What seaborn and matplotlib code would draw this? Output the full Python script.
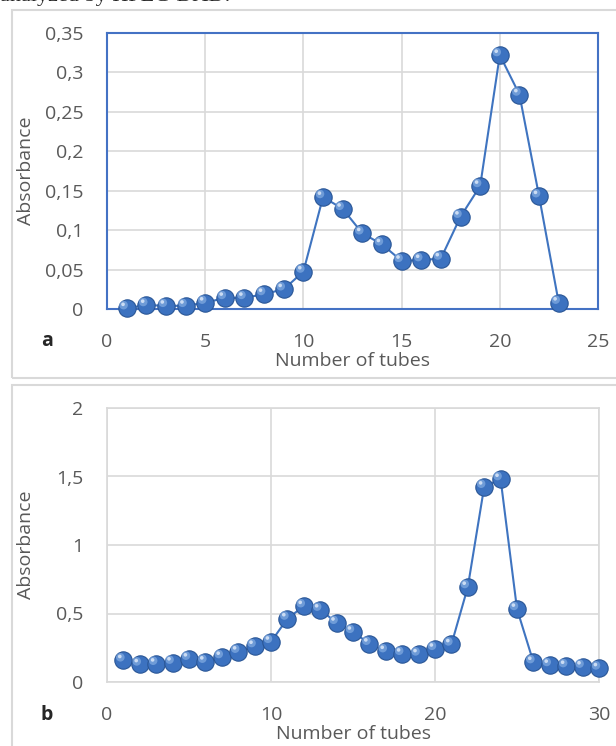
import matplotlib
matplotlib.use("Agg")
import matplotlib.pyplot as plt
import matplotlib.transforms as mtransforms
import seaborn as sns
import pandas as pd
from matplotlib.ticker import FuncFormatter, MultipleLocator
from matplotlib.patches import Rectangle

# ---- data ----
tubes_a = list(range(1, 24))
abs_a = [0.001, 0.005, 0.004, 0.004, 0.008, 0.014, 0.014, 0.019, 0.025, 0.0475,
         0.142, 0.127, 0.096, 0.082, 0.061, 0.062, 0.064, 0.117, 0.156, 0.322,
         0.272, 0.143, 0.008]
tubes_b = list(range(1, 31))
abs_b = [0.158, 0.128, 0.133, 0.141, 0.170, 0.148, 0.182, 0.221, 0.262, 0.293,
         0.463, 0.553, 0.528, 0.432, 0.366, 0.279, 0.225, 0.206, 0.201, 0.242,
         0.274, 0.693, 1.425, 1.481, 0.533, 0.145, 0.124, 0.116, 0.112, 0.099]
xlabel = "Number of tubes"
ylabel = "Absorbance"
header = "analyzed by HPLC-DAD."
panel_letters = ["a", "b"]

sns.set_style("white")
plt.rcParams['font.family'] = ['Open Sans', 'DejaVu Sans']

W, H = 616, 746
fig = plt.figure(figsize=(W / 100, H / 100), dpi=100)

# panel borders
fig.add_artist(Rectangle((12 / W, 1 - 378 / H), 1.0, 368 / H, transform=fig.transFigure,
                         fill=False, edgecolor="#D9D9D9", linewidth=1.5))
fig.add_artist(Rectangle((12 / W, -0.05), 1.0, 0.05 + 1 - 385 / H, transform=fig.transFigure,
                         fill=False, edgecolor="#D9D9D9", linewidth=1.5))

fig.text(0.0, 1 - 6 / H, header, family="Liberation Serif", fontsize=16, va="bottom", ha="left")

comma = FuncFormatter(lambda v, p: ("%g" % round(v, 4)).replace(".", ","))

line_col = "#3F74C0"
face_col = "#3C72C0"
edge_col = "#2A5696"
tick_col = "#595959"
FS = 14


def draw(ax, x, y, xmax, xstep, ymax, ystep, spine_col):
    df = pd.DataFrame({"x": x, "y": y})
    sns.lineplot(data=df, x="x", y="y", ax=ax, color=line_col, linewidth=1.5,
                 marker="o", markersize=12.5, markerfacecolor=face_col,
                 markeredgecolor=edge_col, markeredgewidth=0.8, zorder=3, clip_on=False)
    # soft highlight on each sphere
    hl = mtransforms.offset_copy(ax.transData, fig=fig, x=-2.2, y=2.2, units="points")
    sns.scatterplot(data=df, x="x", y="y", ax=ax, s=38, color="#7FA9E0", edgecolor="none",
                    alpha=0.75, transform=hl, zorder=4, clip_on=False, legend=False)
    hl2 = mtransforms.offset_copy(ax.transData, fig=fig, x=-2.6, y=2.8, units="points")
    sns.scatterplot(data=df, x="x", y="y", ax=ax, s=7, color="#D6E4F7", edgecolor="none",
                    alpha=0.9, transform=hl2, zorder=5, clip_on=False, legend=False)
    ax.set_xlim(0, xmax)
    ax.set_ylim(0, ymax)
    ax.xaxis.set_major_locator(MultipleLocator(xstep))
    ax.yaxis.set_major_locator(MultipleLocator(ystep))
    ax.yaxis.set_major_formatter(comma)
    ax.grid(True, color="#D9D9D9", linewidth=1.2)
    ax.set_axisbelow(True)
    for s in ax.spines.values():
        s.set_color(spine_col)
        s.set_linewidth(1.5 if spine_col != "#D9D9D9" else 1.2)
    ax.tick_params(axis="both", length=0, labelsize=FS, labelcolor=tick_col)
    ax.tick_params(axis="y", pad=17)
    ax.tick_params(axis="x", pad=17)
    ax.set_xlabel(xlabel, fontsize=FS, color=tick_col, labelpad=1)
    ax.set_ylabel(ylabel, fontsize=FS, color=tick_col)
    ax.yaxis.set_label_coords(-(107 - 35) / 491, 0.5)


ax_a = fig.add_axes([107 / W, 1 - 309 / H, 491 / W, 276 / H])
draw(ax_a, tubes_a, abs_a, 25, 5, 0.35, 0.05, "#4472C4")
ax_b = fig.add_axes([107 / W, 1 - 682 / H, 492 / W, 274 / H])
draw(ax_b, tubes_b, abs_b, 30, 10, 2, 0.5, "#D9D9D9")

# panel letters
fig.text(47 / W, 1 - 341 / H, panel_letters[0], fontsize=FS, fontweight="bold", ha="center", va="center")
fig.text(47 / W, 1 - 715 / H, panel_letters[1], fontsize=FS, fontweight="bold", ha="center", va="center")

fig.savefig("out.png", dpi=100)
